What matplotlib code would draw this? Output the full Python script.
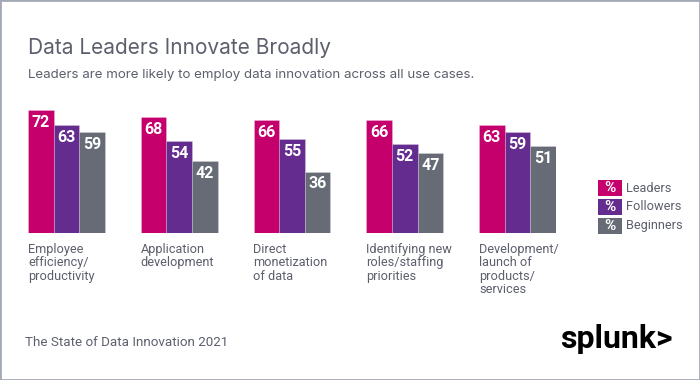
import matplotlib
matplotlib.use("Agg")
import matplotlib.pyplot as plt
from matplotlib.patches import Rectangle
import numpy as np

categories = ["Employee\nefficiency/\nproductivity", "Application\ndevelopment",
              "Direct\nmonetization\nof data", "Identifying new\nroles/staffing\npriorities",
              "Development/\nlaunch of\nproducts/\nservices"]
series_names = ["Leaders", "Followers", "Beginners"]
leaders = [72, 68, 66, 66, 63]
followers = [63, 54, 55, 52, 59]
beginners = [59, 42, 36, 47, 51]
colors = ["#C5006D", "#652C8F", "#666B75"]
text_gray = "#5C606C"

W, H = 700, 380
fig = plt.figure(figsize=(W / 100, H / 100), dpi=100)
fig.patch.set_facecolor("white")

def fx(px):
    return px / W

def fy(py):
    return 1 - py / H

# axes: left 28px, right 556px, top 110px (value 72), bottom 233px
ax = fig.add_axes([fx(28), fy(233), fx(556) - fx(28), (233 - 110) / H])
bw = 77 / 112.75 / 3
x = np.arange(len(categories))
for j, vals in enumerate([leaders, followers, beginners]):
    pos = x + (j - 1) * bw
    ax.bar(pos, vals, width=bw, color=colors[j], edgecolor=(1, 1, 1, 0.25), linewidth=0.6)
    for p, v in zip(pos, vals):
        ax.annotate(str(v), (p, v), xytext=(0, -3.5), textcoords="offset points",
                    ha="center", va="top", color="white", fontsize=11.5,
                    fontweight="bold", family="Roboto")
ax.set_xlim(-1.5 * bw, len(categories) - 1 + 1.5 * bw)
ax.set_ylim(0, 72)
ax.axis("off")

for i, c in enumerate(categories):
    ax.annotate(c, (i - 1.5 * bw, 0), xytext=(0, -7), textcoords="offset points",
                ha="left", va="top", color=text_gray, fontsize=9.2, family="Roboto",
                linespacing=1.05)

fig.text(fx(28), fy(48), "Data Leaders Innovate Broadly", fontsize=15, color=text_gray,
         family="Inter", va="center", ha="left")
fig.text(fx(28), fy(75), "Leaders are more likely to employ data innovation across all use cases.",
         fontsize=9.6, color=text_gray, family="Inter", va="center", ha="left")

# legend
for k, name in enumerate(series_names):
    yc = 188 + k * 19
    fig.patches.append(Rectangle((fx(598), fy(yc + 8)), fx(24), 16 / H, transform=fig.transFigure,
                                 facecolor=colors[k], edgecolor="none"))
    fig.text(fx(610), fy(yc), "%", color="white", fontsize=11, fontweight="bold",
             family="Roboto", ha="center", va="center")
    fig.text(fx(626), fy(yc), name, color=text_gray, fontsize=9.2, family="Roboto",
             ha="left", va="center")

fig.text(fx(25), fy(342), "The State of Data Innovation 2021", fontsize=9.6, color=text_gray,
         family="Roboto", ha="left", va="center")
fig.text(fx(673), fy(339), "splunk>", fontsize=23, color="black", fontweight="bold",
         family="Roboto", ha="right", va="center")

fig.patches.append(Rectangle((0, 0), 1, 1, transform=fig.transFigure, fill=False,
                             edgecolor="#A3A9B6", linewidth=2))

fig.savefig("out.png", dpi=100, facecolor="white")
